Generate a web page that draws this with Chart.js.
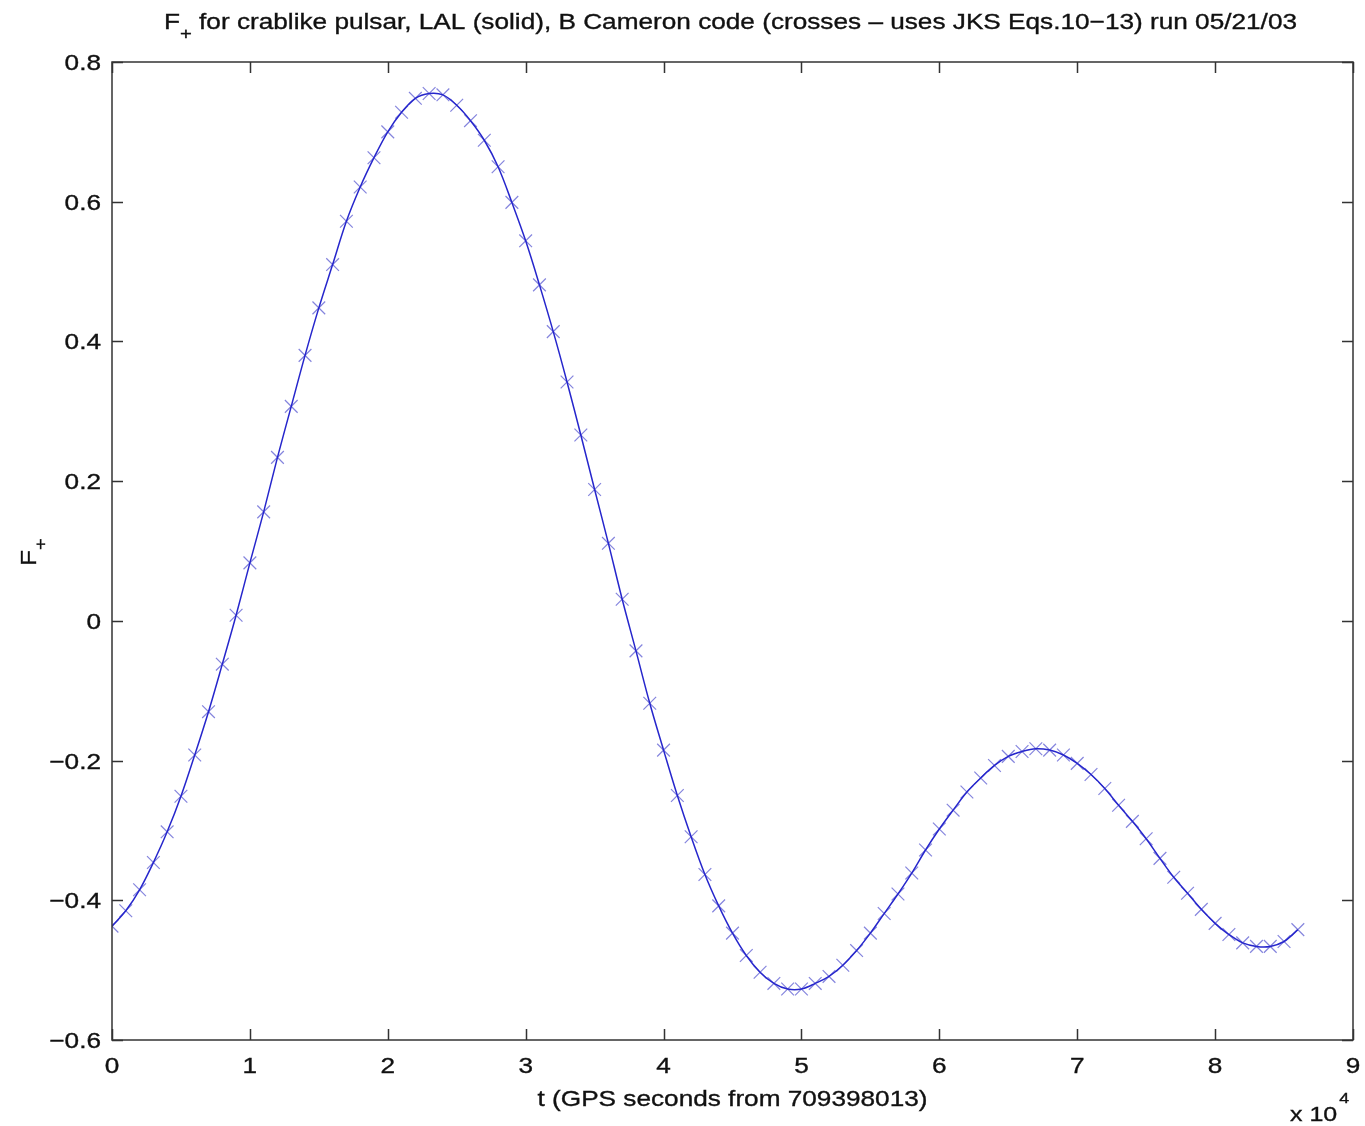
<!DOCTYPE html>
<html>
<head>
<meta charset="utf-8">
<script src="https://cdn.jsdelivr.net/npm/chart.js@4.4.1/dist/chart.umd.min.js"></script>
<style>
  html, body { margin: 0; padding: 0; background: #ffffff; }
  #wrap { width: 1365px; height: 1126px; position: relative; }
  canvas { display: block; }
</style>
</head>
<body>
<div id="wrap"><canvas id="c" width="1365" height="1126"></canvas></div>
<script>
// ---- data ----
const timesSec = [
  0, 1000, 2000, 3000, 4000, 5000, 6000, 7000, 8000, 9000,
  10000, 11000, 12000, 13000, 14000, 15000, 16000, 17000, 18000, 19000,
  20000, 21000, 22000, 23000, 24000, 25000, 26000, 27000, 28000, 29000,
  30000, 31000, 32000, 33000, 34000, 35000, 36000, 37000, 38000, 39000,
  40000, 41000, 42000, 43000, 44000, 45000, 46000, 47000, 48000, 49000,
  50000, 51000, 52000, 53000, 54000, 55000, 56000, 57000, 58000, 59000,
  60000, 61000, 62000, 63000, 64000, 65000, 66000, 67000, 68000, 69000,
  70000, 71000, 72000, 73000, 74000, 75000, 76000, 77000, 78000, 79000,
  80000, 81000, 82000, 83000, 84000, 85000, 86000
];
const fPlusLAL = [
  -0.437, -0.415, -0.385, -0.346, -0.302, -0.251, -0.192, -0.130, -0.062, 0.008,
  0.083, 0.156, 0.234, 0.307, 0.380, 0.448, 0.510, 0.572, 0.621, 0.663,
  0.700, 0.728, 0.748, 0.755, 0.753, 0.738, 0.716, 0.688, 0.650, 0.599,
  0.544, 0.481, 0.414, 0.342, 0.266, 0.188, 0.111, 0.031, -0.043, -0.118,
  -0.185, -0.250, -0.309, -0.363, -0.408, -0.447, -0.479, -0.503, -0.519, -0.527,
  -0.527, -0.519, -0.509, -0.493, -0.472, -0.447, -0.419, -0.391, -0.361, -0.328,
  -0.298, -0.271, -0.245, -0.225, -0.207, -0.194, -0.187, -0.183, -0.185, -0.192,
  -0.204, -0.220, -0.240, -0.264, -0.287, -0.312, -0.340, -0.367, -0.390, -0.413,
  -0.433, -0.449, -0.461, -0.466, -0.466, -0.459, -0.442
];
const fPlusCameron = [
  -0.437, -0.415, -0.385, -0.346, -0.302, -0.251, -0.192, -0.130, -0.062, 0.008,
  0.083, 0.156, 0.234, 0.307, 0.380, 0.448, 0.510, 0.572, 0.621, 0.663,
  0.700, 0.728, 0.748, 0.755, 0.753, 0.738, 0.716, 0.688, 0.650, 0.599,
  0.544, 0.481, 0.414, 0.342, 0.266, 0.188, 0.111, 0.031, -0.043, -0.118,
  -0.185, -0.250, -0.309, -0.363, -0.408, -0.447, -0.479, -0.503, -0.519, -0.527,
  -0.527, -0.519, -0.509, -0.493, -0.472, -0.447, -0.419, -0.391, -0.361, -0.328,
  -0.298, -0.271, -0.245, -0.225, -0.207, -0.194, -0.187, -0.183, -0.185, -0.192,
  -0.204, -0.220, -0.240, -0.264, -0.287, -0.312, -0.340, -0.367, -0.390, -0.413,
  -0.433, -0.449, -0.461, -0.466, -0.466, -0.459, -0.442
];
const xTickValues = [0, 10000, 20000, 30000, 40000, 50000, 60000, 70000, 80000, 90000];
const xTickLabels = ['0', '1', '2', '3', '4', '5', '6', '7', '8', '9'];
const yTickValues = [0.8, 0.6, 0.4, 0.2, 0, -0.2, -0.4, -0.6];
const yTickLabels = ['0.8', '0.6', '0.4', '0.2', '0', '\u22120.2', '\u22120.4', '\u22120.6'];
const titleMain = 'F';
const titleSub = '+';
const titleRest = ' for crablike pulsar, LAL (solid), B Cameron code (crosses \u2013 uses JKS Eqs.10\u221213) run 05/21/03';
const xAxisLabel = 't (GPS seconds from 709398013)';
const yAxisMain = 'F';
const yAxisSub = '+';
const exponentBase = 'x 10';
const exponentPow = '4';

const lalPoints = timesSec.map((t, i) => ({ x: t, y: fPlusLAL[i] }));
const camPoints = timesSec.map((t, i) => ({ x: t, y: fPlusCameron[i] }));

const FONT = '"Liberation Sans", Arial, Helvetica, sans-serif';
const SX = 1.19; // horizontal widening of the glyphs, as in the reference

// draw text widened horizontally; returns drawn width
function wideText(ctx, text, x, y, size, align) {
  ctx.font = size + 'px ' + FONT;
  const w = ctx.measureText(text).width * SX;
  let left = x;
  if (align === 'center') left = x - w / 2;
  else if (align === 'right') left = x - w;
  ctx.save();
  ctx.translate(left, y);
  ctx.scale(SX, 1);
  ctx.textAlign = 'left';
  ctx.textBaseline = 'alphabetic';
  ctx.lineWidth = 0.35;
  ctx.strokeStyle = ctx.fillStyle;
  ctx.fillText(text, 0, 0);
  ctx.strokeText(text, 0, 0);
  ctx.restore();
  return w;
}
function textW(ctx, text, size) {
  ctx.font = size + 'px ' + FONT;
  return ctx.measureText(text).width * SX;
}

const framePlugin = {
  id: 'frame',
  afterDraw(chart) {
    const ctx = chart.ctx;
    const a = chart.chartArea;
    const xs = chart.scales.x, ys = chart.scales.y;
    ctx.save();
    // box
    ctx.strokeStyle = '#333333';
    ctx.lineWidth = 1.5;
    ctx.strokeRect(a.left, a.top, a.right - a.left, a.bottom - a.top);
    // inward ticks
    const tl = 11;
    ctx.beginPath();
    xTickValues.forEach(v => {
      const px = Math.round(xs.getPixelForValue(v)) + 0.5;
      ctx.moveTo(px, a.bottom); ctx.lineTo(px, a.bottom - tl);
      ctx.moveTo(px, a.top); ctx.lineTo(px, a.top + tl);
    });
    yTickValues.forEach(v => {
      const py = Math.round(ys.getPixelForValue(v)) + 0.5;
      ctx.moveTo(a.left, py); ctx.lineTo(a.left + tl, py);
      ctx.moveTo(a.right, py); ctx.lineTo(a.right - tl, py);
    });
    ctx.stroke();

    ctx.fillStyle = '#111111';
    // tick labels
    xTickValues.forEach((v, i) => {
      wideText(ctx, xTickLabels[i], xs.getPixelForValue(v), a.bottom + 33, 22, 'center');
    });
    yTickValues.forEach((v, i) => {
      wideText(ctx, yTickLabels[i], a.left - 11, ys.getPixelForValue(v) + 8, 22, 'right');
    });

    // title
    const wMain = textW(ctx, titleMain, 22);
    const wSub = textW(ctx, titleSub, 17);
    const wRest = textW(ctx, titleRest, 22);
    const total = wMain + wSub + wRest;
    const tx = (a.left + a.right) / 2 - total / 2 - 2;
    const ty = 29;
    wideText(ctx, titleMain, tx, ty, 22, 'left');
    wideText(ctx, titleSub, tx + wMain, ty + 10, 17, 'left');
    wideText(ctx, titleRest, tx + wMain + wSub, ty, 22, 'left');

    // x-axis label
    wideText(ctx, xAxisLabel, (a.left + a.right) / 2, 1106, 22, 'center');

    // exponent
    const wb = wideText(ctx, exponentBase, 1290, 1121, 21, 'left');
    wideText(ctx, exponentPow, 1290 + wb + 2, 1103, 15, 'left');

    // y-axis label (rotated)
    ctx.save();
    ctx.translate(36, 566);
    ctx.rotate(-Math.PI / 2);
    const wyf = wideText(ctx, yAxisMain, 0, 0, 22, 'left');
    wideText(ctx, yAxisSub, wyf, 10, 17, 'left');
    ctx.restore();

    ctx.restore();
  }
};

new Chart(document.getElementById('c'), {
  type: 'scatter',
  data: {
    datasets: [
      {
        label: 'LAL (solid)',
        data: lalPoints,
        showLine: true,
        borderColor: '#2626cc',
        borderWidth: 1.5,
        pointRadius: 0,
        pointHoverRadius: 0,
        tension: 0.35,
        fill: false,
        order: 1
      },
      {
        label: 'B Cameron code (crosses)',
        data: camPoints,
        showLine: false,
        pointStyle: 'crossRot',
        pointRadius: 9,
        pointBorderWidth: 1.2,
        borderColor: 'rgba(110,110,215,0.85)',
        backgroundColor: 'rgba(110,110,215,0.85)',
        order: 2
      }
    ]
  },
  options: {
    responsive: false,
    animation: false,
    devicePixelRatio: 1,
    layout: { padding: { top: 62, right: 12, bottom: 0, left: 0 } },
    plugins: {
      legend: { display: false },
      title: { display: false },
      tooltip: { enabled: false }
    },
    scales: {
      x: {
        type: 'linear',
        min: 0,
        max: 90000,
        afterFit(s) { s.height = 86; },
        afterBuildTicks(s) { s.ticks = xTickValues.map(v => ({ value: v })); },
        grid: { display: false, drawTicks: false },
        border: { display: false },
        ticks: { display: false }
      },
      y: {
        type: 'linear',
        min: -0.6,
        max: 0.8,
        afterFit(s) { s.width = 112; },
        afterBuildTicks(s) { s.ticks = yTickValues.map(v => ({ value: v })); },
        grid: { display: false, drawTicks: false },
        border: { display: false },
        ticks: { display: false }
      }
    }
  },
  plugins: [framePlugin]
});
</script>
</body>
</html>
